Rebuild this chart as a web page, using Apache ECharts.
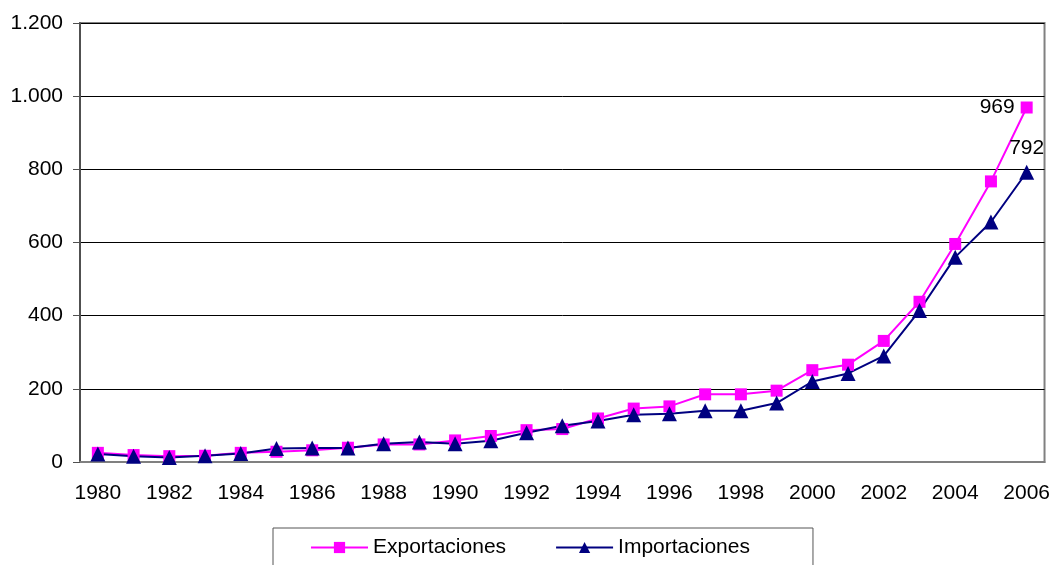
<!doctype html>
<html lang="es">
<head>
<meta charset="UTF-8">
<title>Exportaciones e Importaciones</title>
<script src="https://cdn.jsdelivr.net/npm/echarts@6/dist/echarts.min.js"></script>
<style>
  html, body { margin: 0; padding: 0; background: #fff; }
  #main { width: 1053px; height: 565px; }
</style>
</head>
<body>
<div id="main"></div>
<script>
var years = ['1980','1981','1982','1983','1984','1985','1986','1987','1988','1989',
             '1990','1991','1992','1993','1994','1995','1996','1997','1998','1999',
             '2000','2001','2002','2003','2004','2005','2006'];
var exportaciones = [25, 19, 16, 17, 25, 28, 32, 39, 48, 48,
                     59, 71, 87, 90, 119, 146, 152, 185, 185, 195,
                     251, 266, 331, 438, 596, 767, 969];
var importaciones = [22, 16, 12, 17, 23, 37, 38, 38, 50, 55,
                     50, 58, 80, 99, 112, 129, 132, 140, 140, 161,
                     220, 242, 290, 414, 560, 656, 792];

// etiqueta solo en el último punto
function withLastLabel(arr, pos) {
  return arr.map(function (v, i) {
    if (i === arr.length - 1) {
      return { value: v, label: { show: true, position: pos, color: '#000', fontSize: 21, distance: 6 } };
    }
    return v;
  });
}

var myChart = echarts.init(document.getElementById('main'));
var option = {
  animation: false,
  textStyle: { fontFamily: 'Liberation Sans, Arial, sans-serif' },
  grid: {
    left: 80, right: 7, top: 23, bottom: 103,
    show: true, borderColor: '#808080', borderWidth: 2
  },
  legend: {
    left: 273, top: 528,
    padding: [9, 63, 20, 37],
    borderColor: '#555', borderWidth: 1,
    itemWidth: 57, itemHeight: 14, itemGap: 49,
    textStyle: { fontSize: 21, color: '#000' },
    data: ['Exportaciones', 'Importaciones']
  },
  xAxis: {
    type: 'category',
    data: years,
    boundaryGap: true,
    axisLine: { lineStyle: { color: '#808080', width: 2 } },
    axisTick: { interval: 0, length: 6, lineStyle: { color: '#666' } },
    axisLabel: { interval: 1, color: '#000', fontSize: 21, margin: 21 }
  },
  yAxis: {
    type: 'value',
    min: 0, max: 1200, interval: 200,
    axisLine: { show: true, lineStyle: { color: '#505050', width: 2 } },
    axisTick: { show: true, length: 7, lineStyle: { color: '#505050' } },
    axisLabel: {
      color: '#000', fontSize: 21, margin: 17,
      formatter: function (v) { return v >= 1000 ? (v / 1000).toFixed(3) : String(v); }
    },
    splitLine: { lineStyle: { color: '#000', width: 1 } }
  },
  series: [
    {
      name: 'Exportaciones',
      type: 'line',
      data: withLastLabel(exportaciones, 'left'),
      symbol: 'rect',
      symbolSize: 12,
      lineStyle: { color: '#ff00ff', width: 2 },
      itemStyle: { color: '#ff00ff' }
    },
    {
      name: 'Importaciones',
      type: 'line',
      data: withLastLabel(importaciones, 'top'),
      symbol: 'triangle',
      symbolSize: 15,
      lineStyle: { color: '#000080', width: 2 },
      itemStyle: { color: '#000080' }
    }
  ]
};
myChart.setOption(option);
</script>
</body>
</html>
